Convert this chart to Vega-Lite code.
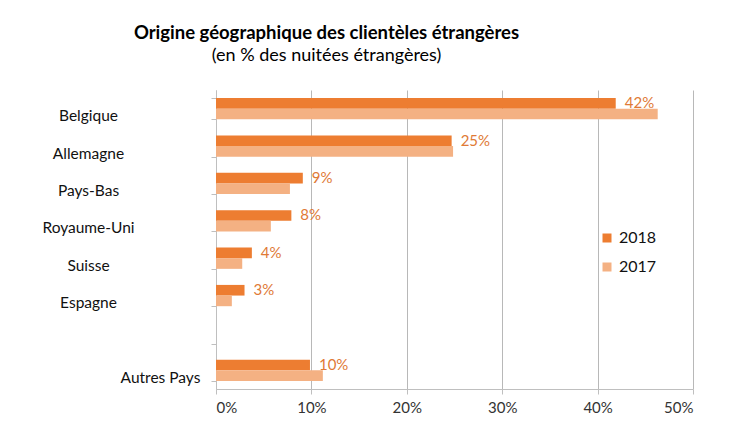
{
  "$schema": "https://vega.github.io/schema/vega-lite/v6.json",
  "width": 477,
  "height": 299,
  "autosize": "none",
  "padding": {"left": 216, "top": 90, "right": 38, "bottom": 33},
  "background": "white",
  "title": {
    "text": "Origine géographique des clientèles étrangères",
    "subtitle": "(en % des nuitées étrangères)",
    "anchor": "middle",
    "dx": -128,
    "font": "Lato",
    "fontSize": 18.5,
    "fontWeight": "bold",
    "color": "#000000",
    "subtitleFont": "Lato",
    "subtitleFontSize": 18,
    "subtitleColor": "#000000",
    "subtitlePadding": 5,
    "offset": 18
  },
  "data": {
    "values": [
      {"pays": "Belgique", "annee": "2018", "part": 0.419},
      {"pays": "Belgique", "annee": "2017", "part": 0.463},
      {"pays": "Allemagne", "annee": "2018", "part": 0.247},
      {"pays": "Allemagne", "annee": "2017", "part": 0.2485},
      {"pays": "Pays-Bas", "annee": "2018", "part": 0.091},
      {"pays": "Pays-Bas", "annee": "2017", "part": 0.0775},
      {"pays": "Royaume-Uni", "annee": "2018", "part": 0.079},
      {"pays": "Royaume-Uni", "annee": "2017", "part": 0.0575},
      {"pays": "Suisse", "annee": "2018", "part": 0.0376},
      {"pays": "Suisse", "annee": "2017", "part": 0.0275},
      {"pays": "Espagne", "annee": "2018", "part": 0.0299},
      {"pays": "Espagne", "annee": "2017", "part": 0.0166},
      {"pays": "Autres Pays", "annee": "2018", "part": 0.0985},
      {"pays": "Autres Pays", "annee": "2017", "part": 0.112}
    ]
  },
  "encoding": {
    "y": {
      "field": "pays",
      "type": "nominal",
      "scale": {
        "domain": ["Belgique", "Allemagne", "Pays-Bas", "Royaume-Uni", "Suisse", "Espagne", "_", "Autres Pays"],
        "paddingInner": 0.43,
        "paddingOuter": 0.215
      },
      "axis": {
        "title": null,
        "labelExpr": "datum.value == '_' ? '' : datum.value",
        "labelFont": "Lato",
        "labelFontSize": 15.5,
        "labelColor": "#111111",
        "labelAlign": "center",
        "labelPadding": {"condition": {"test": "datum.value == 'Autres Pays'", "value": 51}, "value": 123},
        "labelOffset": 7,
        "domainColor": "#bfbfbf",
        "tickColor": "#bfbfbf",
        "tickSize": 5,
        "tickBand": "extent",
        "grid": false
      }
    },
    "x": {
      "field": "part",
      "type": "quantitative",
      "scale": {"domain": [0, 0.5]},
      "axis": {
        "title": null,
        "values": [0, 0.1, 0.2, 0.3, 0.4, 0.5],
        "format": ".0%",
        "labelFont": "Lato",
        "labelFontSize": 15,
        "labelColor": "#333333",
        "labelPadding": 6,
        "domainColor": "#bfbfbf",
        "tickColor": "#bfbfbf",
        "tickSize": 5,
        "grid": true,
        "gridColor": "#b8b8b8"
      }
    },
    "yOffset": {"field": "annee", "type": "nominal", "scale": {"domain": ["2018", "2017"]}}
  },
  "layer": [
    {
      "mark": {"type": "bar"},
      "encoding": {
        "color": {
          "field": "annee",
          "type": "nominal",
          "scale": {"domain": ["2018", "2017"], "range": ["#ED7D31", "#F4B183"]},
          "legend": {
            "title": null,
            "orient": "none",
            "legendX": 383,
            "legendY": 140,
            "symbolType": "square",
            "symbolSize": 81,
            "symbolStrokeWidth": 0,
            "labelFont": "Lato",
            "labelFontSize": 16,
            "labelColor": "#111111",
            "labelOffset": 4,
            "rowPadding": 13
          }
        }
      }
    },
    {
      "transform": [{"filter": "datum.annee == '2018'"}],
      "mark": {"type": "text", "align": "left", "baseline": "middle", "dx": 9, "font": "Lato", "fontSize": 15, "color": "#E07A36"},
      "encoding": {
        "text": {"field": "part", "type": "quantitative", "format": ".0%"}
      }
    }
  ],
  "config": {"view": {"stroke": null}}
}
